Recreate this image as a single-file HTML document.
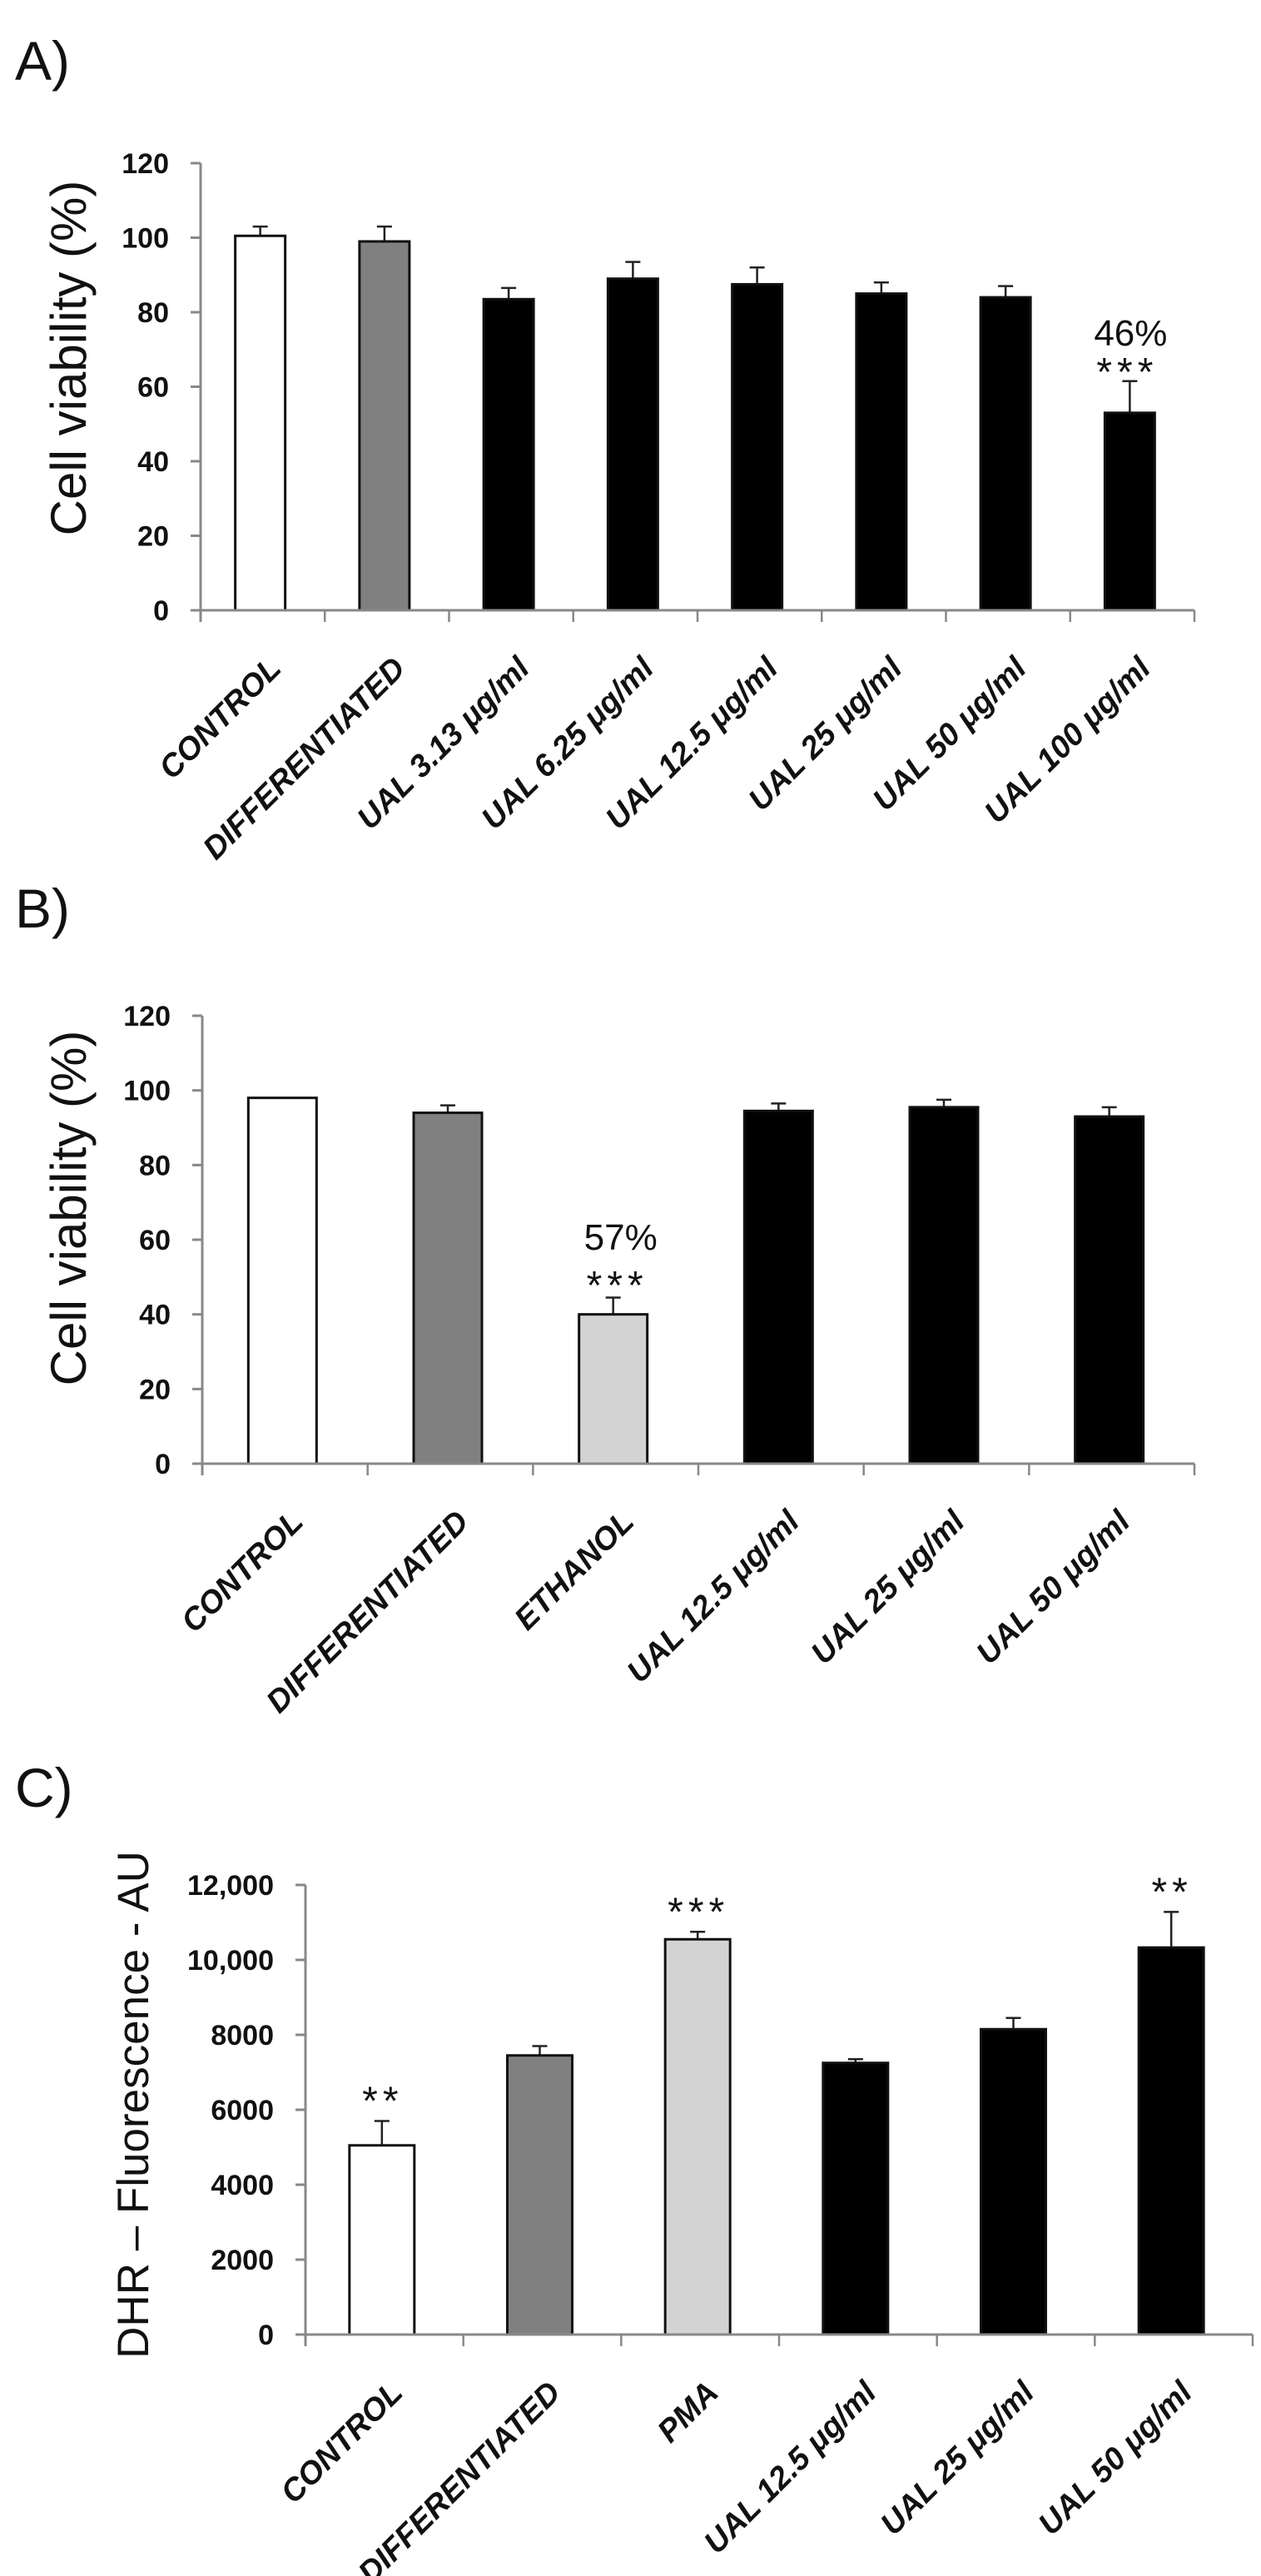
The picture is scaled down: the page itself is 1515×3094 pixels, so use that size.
<!DOCTYPE html>
<html><head><meta charset="utf-8"><style>
html,body{margin:0;padding:0;background:#fff;}
svg{display:block;}
text{font-family:"Liberation Sans",sans-serif;fill:#111;}
.tick{font-weight:bold;font-size:34px;}
.xl{font-weight:bold;font-style:italic;font-size:38px;}
.yt{font-size:60px;}
.pl{font-size:66px;}
</style></head><body>
<svg id="fig" width="1515" height="3094" viewBox="0 0 1515 3094" xmlns="http://www.w3.org/2000/svg"></svg>
<script>
// Panel A
const catsA = ["CONTROL","DIFFERENTIATED","UAL 3.13 μg/ml","UAL 6.25 μg/ml","UAL 12.5 μg/ml","UAL 25 μg/ml","UAL 50 μg/ml","UAL 100 μg/ml"];
const valsA = [100.5, 99, 83.5, 89, 87.5, 85, 84, 53];
const errA = [2.5, 4, 3, 4.5, 4.5, 3, 3, 8.5];
const colA = ["#ffffff","#808080","#000000","#000000","#000000","#000000","#000000","#000000"];
const ticksA = [0, 20, 40, 60, 80, 100, 120];
const tickLabA = ["0","20","40","60","80","100","120"];
// Panel B
const catsB = ["CONTROL","DIFFERENTIATED","ETHANOL","UAL 12.5 μg/ml","UAL 25 μg/ml","UAL 50 μg/ml"];
const valsB = [98, 94, 40, 94.5, 95.5, 93];
const errB = [0, 2, 4.5, 2, 2, 2.5];
const colB = ["#ffffff","#808080","#d3d3d3","#000000","#000000","#000000"];
const ticksB = [0, 20, 40, 60, 80, 100, 120];
const tickLabB = ["0","20","40","60","80","100","120"];
// Panel C
const catsC = ["CONTROL","DIFFERENTIATED","PMA","UAL 12.5 μg/ml","UAL 25 μg/ml","UAL 50 μg/ml"];
const valsC = [5050, 7450, 10550, 7250, 8150, 10330];
const errC = [650, 250, 200, 100, 300, 950];
const colC = ["#ffffff","#808080","#d3d3d3","#000000","#000000","#000000"];
const ticksC = [0, 2000, 4000, 6000, 8000, 10000, 12000];
const tickLabC = ["0","2000","4000","6000","8000","10,000","12,000"];
const starsC = ["**","","***","","","**"];

const NS = "http://www.w3.org/2000/svg";
const svg = document.getElementById("fig");
function mk(tag, attrs, parent){
  const e = document.createElementNS(NS, tag);
  for (const k in attrs) e.setAttribute(k, attrs[k]);
  (parent||svg).appendChild(e); return e;
}
function txt(s, attrs, parent){ const t = mk("text", attrs, parent); t.textContent = s; return t; }

function panel(cfg){
  const g = mk("g", {});
  
  
  const {x0,x1,y0,ymax,yTop,cats,vals,errs,cols,ticks,tlabs,bw} = cfg;
  const yS = v => y0 - (v/ymax)*(y0-yTop);
  const step = (x1-x0)/cats.length;
  const xC = i => x0 + step*(i+0.5);
  const pl = txt(cfg.label, {x:18, y:cfg.labelY, class:"pl"}, g);
  
  
  const yt = txt(cfg.ytitle, {x:0,y:0,class:"yt","text-anchor":"middle",
    transform:`translate(${cfg.ytX},${cfg.ytY}) rotate(-90)`, style:`font-size:${cfg.ytSize}px`}, g);
  
  
  cats.forEach((c,i)=>{
    const cx = xC(i)-3, top = yS(vals[i]);
    if (errs[i]>0){
      const et = yS(vals[i]+errs[i]);
      const el = mk("path",{d:`M${cx} ${top} V${et} M${cx-9} ${et} H${cx+9}`,stroke:"#222","stroke-width":2.5,fill:"none"}, g);
      
      
    }
    const r = mk("rect",{x:cx-bw/2,y:top,width:bw,height:y0-top,fill:cols[i],stroke:"#111","stroke-width":3}, g);
    
    
    const lab = txt(c,{x:0,y:0,class:"xl","text-anchor":"end",
      transform:`translate(${xC(i)+24},${y0+72}) rotate(-45)`}, g);
    
    
  });
  const ax = mk("path",{d:`M${x0} ${yTop} V${y0+14} M${x0-12} ${y0} H${x1}`,stroke:"#888","stroke-width":3,fill:"none"}, g);
  
  
  ticks.forEach((t,i)=>{
    const y = yS(t);
    mk("line",{x1:x0-12,x2:x0,y1:y,y2:y,stroke:"#888","stroke-width":3}, g);
    const tl = txt(tlabs[i],{x:x0-38,y:y+12,class:"tick","text-anchor":"end"}, g);
    
    
  });
  for (let i=1;i<=cats.length;i++){
    const x = x0+step*i;
    mk("line",{x1:x,x2:x,y1:y0,y2:y0+14,stroke:"#888","stroke-width":2.5}, g);
  }
  return {xC,yS,g};
}

const A = panel({name:"panel-a",label:"A)",labelY:96,x0:241,x1:1435,y0:733,ymax:120,yTop:196,
  cats:catsA,vals:valsA,errs:errA,cols:colA,ticks:ticksA,tlabs:tickLabA,bw:60,
  ytitle:"Cell viability (%)",ytX:103,ytY:430,ytSize:60});
let t = txt("46%",{x:A.xC(7)-2,y:415,"text-anchor":"middle",style:"font-size:44px"},A.g);


t = txt("***",{x:A.xC(7)-6,y:463,"text-anchor":"middle",style:"font-size:48px;letter-spacing:6px"},A.g);



const B = panel({name:"panel-b",label:"B)",labelY:1114,x0:243,x1:1435,y0:1758,ymax:120,yTop:1220,
  cats:catsB,vals:valsB,errs:errB,cols:colB,ticks:ticksB,tlabs:tickLabB,bw:82,
  ytitle:"Cell viability (%)",ytX:103,ytY:1451,ytSize:60});
t = txt("57%",{x:B.xC(2)+6,y:1501,"text-anchor":"middle",style:"font-size:44px"},B.g);


t = txt("***",{x:B.xC(2)+2,y:1560,"text-anchor":"middle",style:"font-size:48px;letter-spacing:6px"},B.g);



const C = panel({name:"panel-c",label:"C)",labelY:2170,x0:367,x1:1505,y0:2804,ymax:12000,yTop:2264,
  cats:catsC,vals:valsC,errs:errC,cols:colC,ticks:ticksC,tlabs:tickLabC,bw:78,
  ytitle:"DHR – Fluorescence - AU",ytX:178,ytY:2528,ytSize:53});
starsC.forEach((s,i)=>{
  if(!s) return;
  const top = C.yS(valsC[i]+errC[i]);
  const st = txt(s,{x:C.xC(i)-2,y:top-8,"text-anchor":"middle",style:"font-size:48px;letter-spacing:6px"},C.g);
  
  
});
</script>
</body></html>
